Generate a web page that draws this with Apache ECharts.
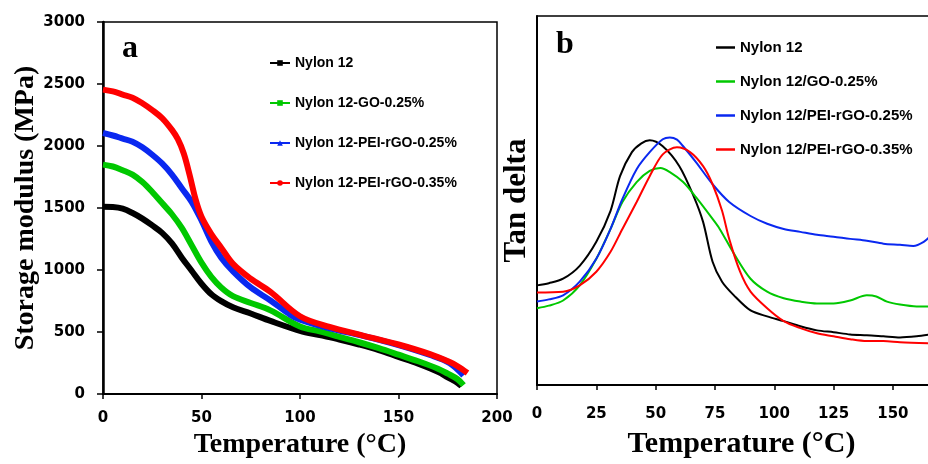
<!DOCTYPE html>
<html>
<head>
<meta charset="utf-8">
<script src="https://cdn.jsdelivr.net/npm/echarts@6/dist/echarts.min.js"></script>
<style>
html,body{margin:0;padding:0;background:#fff;}
#chart{width:928px;height:464px;}
</style>
</head>
<body>
<div id="chart"></div>
<script>
// ---------- Panel a: storage modulus (MPa) vs temperature (°C) ----------
const modulusTicks = [0, 500, 1000, 1500, 2000, 2500, 3000];
const tempTicksA = [0, 50, 100, 150, 200];
const namesA = ['Nylon 12', 'Nylon 12-GO-0.25%', 'Nylon 12-PEI-rGO-0.25%', 'Nylon 12-PEI-rGO-0.35%'];

const modNylon = [[0,1510],[5,1508],[10,1495],[15,1460],[20,1415],[25,1360],[30,1300],[35,1215],[40,1100],[45,995],[50,890],[55,805],[60,750],[66,700],[75,650],[85,590],[100,510],[110,475],[120,440],[130,400],[140,355],[150,300],[160,245],[170,180],[175,135],[180,90],[182,64]];
const modGO = [[0,1850],[5,1835],[10,1805],[15,1770],[20,1710],[25,1630],[30,1540],[35,1450],[40,1340],[45,1200],[50,1060],[55,945],[60,860],[66,790],[75,735],[85,675],[100,545],[110,505],[120,462],[130,418],[140,370],[150,318],[160,265],[170,205],[175,165],[180,120],[183,72]];
const modPEI25 = [[0,2105],[5,2085],[10,2060],[15,2035],[20,1990],[25,1930],[30,1860],[35,1770],[40,1660],[45,1550],[50,1400],[55,1230],[60,1100],[66,990],[75,860],[85,755],[95,640],[100,600],[115,530],[132,470],[150,395],[166,315],[176,250],[183,150]];
const modPEI35 = [[0,2455],[5,2440],[10,2415],[15,2390],[20,2345],[25,2290],[30,2225],[35,2130],[38,2055],[41,1940],[44,1765],[47,1570],[50,1430],[55,1290],[60,1180],[66,1050],[75,930],[85,825],[100,628],[115,542],[132,472],[150,400],[166,322],[176,258],[180,225],[185,170]];

// ---------- Panel b: tan delta (relative units) vs temperature (°C) ----------
const tempTicksB = [0, 25, 50, 75, 100, 125, 150];
const namesB = ['Nylon 12', 'Nylon 12/GO-0.25%', 'Nylon 12/PEI-rGO-0.25%', 'Nylon 12/PEI-rGO-0.35%'];

const tanNylon = [[0,0.270],[5,0.276],[11,0.288],[18,0.323],[25,0.388],[31,0.472],[35,0.566],[40,0.631],[44,0.655],[47.5,0.663],[53,0.647],[60,0.593],[66,0.512],[70,0.442],[74,0.334],[78,0.280],[83,0.243],[90,0.202],[97,0.186],[104,0.173],[111,0.159],[118,0.148],[125,0.143],[132,0.137],[139,0.135],[146,0.132],[153,0.129],[160,0.132],[166,0.137]];
const tanGO = [[0,0.208],[5,0.215],[11,0.229],[18,0.270],[25,0.342],[31,0.423],[36,0.496],[42,0.550],[47.5,0.580],[52,0.588],[56,0.577],[61.6,0.550],[67,0.509],[74,0.450],[77,0.423],[83,0.356],[90,0.288],[97,0.253],[104,0.235],[111,0.226],[118,0.221],[125,0.221],[132,0.229],[139,0.243],[143,0.240],[147.5,0.226],[153,0.218],[160,0.213],[166,0.213]];
const tanPEI25 = [[0,0.226],[5,0.232],[11,0.243],[18,0.280],[25,0.342],[31,0.423],[36,0.504],[42,0.585],[47.5,0.631],[53,0.666],[56,0.671],[59,0.665],[61.6,0.647],[67,0.604],[74,0.544],[81,0.496],[90,0.458],[97,0.437],[104,0.423],[111,0.415],[118,0.407],[125,0.402],[132,0.396],[139,0.391],[146,0.383],[153,0.380],[158.6,0.377],[163,0.388],[166,0.405]];
const tanPEI35 = [[0,0.251],[11,0.253],[18,0.270],[25,0.307],[31,0.361],[36,0.423],[42,0.496],[47.5,0.566],[53,0.625],[59,0.644],[64.5,0.631],[70,0.593],[74,0.544],[78,0.472],[81,0.396],[85.6,0.307],[90,0.253],[97,0.208],[104,0.173],[111,0.154],[118,0.140],[125,0.132],[132,0.124],[139,0.119],[146,0.119],[153,0.116],[166,0.113]];

const colors = ['#000000', '#00c800', '#0a28f0', '#ff0000'];
const SUFFIX_B = ' \u200b';

const chart = echarts.init(document.getElementById('chart'), null, {renderer: 'canvas'});

const tickFont = {fontFamily: 'DejaVu Sans', fontWeight: 'bold', fontSize: 15, color: '#000'};
const serifBold = {fontFamily: 'Liberation Serif', fontWeight: 'bold', color: '#000'};

const seriesA = [modNylon, modGO, modPEI25, modPEI35].map((d, i) => ({
  name: namesA[i], type: 'line', xAxisIndex: 0, yAxisIndex: 0,
  data: d, smooth: 0.35, showSymbol: false,
  symbol: ['rect', 'rect', 'triangle', 'circle'][i], symbolSize: 6,
  lineStyle: {color: colors[i], width: 6}, itemStyle: {color: colors[i]},
  silent: true, animation: false
}));
const seriesB = [tanNylon, tanGO, tanPEI25, tanPEI35].map((d, i) => ({
  name: namesB[i] + SUFFIX_B, type: 'line', xAxisIndex: 1, yAxisIndex: 1,
  data: d, smooth: 0.3, showSymbol: false, symbol: 'none',
  lineStyle: {color: colors[i], width: 2}, itemStyle: {color: colors[i]},
  silent: true, animation: false
}));

const option = {
  animation: false,
  backgroundColor: '#fff',
  grid: [
    {left: 103, top: 22, width: 394, height: 374, show: true, borderColor: '#000', borderWidth: 1.5, containLabel: false},
    {left: 537, top: 16, width: 391, height: 371, show: false, containLabel: false}
  ],
  xAxis: [
    {type: 'value', gridIndex: 0, min: 0, max: 200, interval: 50,
     name: 'Temperature (°C)', nameLocation: 'middle', nameGap: 35,
     nameTextStyle: Object.assign({fontSize: 28}, serifBold),
     axisLine: {lineStyle: {color: '#000', width: 2}},
     axisTick: {show: true, length: 5, lineStyle: {color: '#000', width: 1.5}},
     axisLabel: Object.assign({margin: 17, formatter: v => tempTicksA.includes(v) ? String(v) : ''}, tickFont),
     splitLine: {show: false}},
    {type: 'value', gridIndex: 1, min: 0, max: 164.8, interval: 25,
     name: 'Temperature (°C)', nameLocation: 'middle', nameGap: 44, nameMoveOverlap: false,
     nameTextStyle: Object.assign({fontSize: 30, padding: [0, 0, 0, 18]}, serifBold),
     axisLine: {lineStyle: {color: '#000', width: 2}},
     axisTick: {show: true, length: 5, lineStyle: {color: '#000', width: 1.5}},
     axisLabel: Object.assign({margin: 22, showMaxLabel: false, formatter: v => tempTicksB.includes(v) ? String(v) : ''}, tickFont),
     splitLine: {show: false}},
    {type: 'value', gridIndex: 1, position: 'top', min: 0, max: 164.8,
     axisLine: {show: true, lineStyle: {color: '#000', width: 1.5}},
     axisTick: {show: false}, axisLabel: {show: false}, splitLine: {show: false}}
  ],
  yAxis: [
    {type: 'value', gridIndex: 0, min: 0, max: 3000, interval: 500,
     name: 'Storage modulus (MPa)', nameLocation: 'middle', nameGap: 63,
     nameTextStyle: Object.assign({fontSize: 28}, serifBold),
     axisLine: {show: true, lineStyle: {color: '#000', width: 2.5}},
     axisTick: {show: true, length: 6, lineStyle: {color: '#000', width: 1.5}},
     axisLabel: Object.assign({margin: 18, formatter: v => modulusTicks.includes(v) ? String(v) : ''}, tickFont),
     splitLine: {show: false}},
    {type: 'value', gridIndex: 1, min: 0, max: 1,
     name: 'Tan delta', nameLocation: 'middle', nameGap: 5,
     nameTextStyle: Object.assign({fontSize: 31}, serifBold),
     axisLine: {show: true, lineStyle: {color: '#000', width: 2}},
     axisTick: {show: false}, axisLabel: {show: false},
     splitLine: {show: false}}
  ],
  legend: [
    {orient: 'vertical', left: 269, top: 56, padding: 0, itemGap: 26,
     itemWidth: 20, itemHeight: 7, selectedMode: false,
     data: namesA,
     lineStyle: {width: 2},
     textStyle: {fontFamily: 'Liberation Sans', fontWeight: 'bold', fontSize: 14, color: '#000'}},
    {orient: 'vertical', left: 716, top: 40, padding: 0, itemGap: 19,
     itemWidth: 19, itemHeight: 2.5, icon: 'rect', selectedMode: false,
     data: namesB.map(n => n + SUFFIX_B),
     formatter: n => n.replace(SUFFIX_B, ''),
     textStyle: {fontFamily: 'Liberation Sans', fontWeight: 'bold', fontSize: 15, color: '#000'}}
  ],
  graphic: [
    {type: 'text', left: 122, top: 33, silent: true,
     style: {text: 'a', font: 'bold 32px "Liberation Serif"', fill: '#000'}},
    {type: 'text', left: 556, top: 29, silent: true,
     style: {text: 'b', font: 'bold 32px "Liberation Serif"', fill: '#000'}}
  ],
  series: seriesA.concat(seriesB)
};
chart.setOption(option);
</script>
</body>
</html>
